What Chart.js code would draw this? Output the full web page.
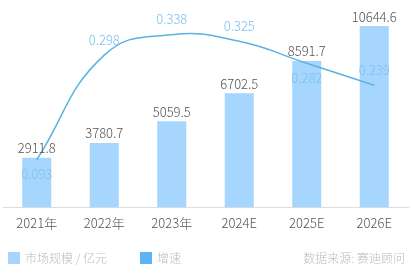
<!DOCTYPE html>
<html>
<head>
<meta charset="utf-8">
<script src="https://cdn.jsdelivr.net/npm/chart.js@4/dist/chart.umd.min.js"></script>
<style>
  html, body { margin: 0; padding: 0; background: #fff; }
  #wrap { position: relative; width: 412px; height: 273px; }
</style>
</head>
<body>
<div id="wrap"><canvas id="chart"></canvas></div>
<script>
// chart data
const years = ['2021年', '2022年', '2023年', '2024E', '2025E', '2026E'];
const marketSize = [2911.8, 3780.7, 5059.5, 6702.5, 8591.7, 10644.6];
const growth = [0.093, 0.298, 0.338, 0.325, 0.282, 0.239];
// which growth labels sit under the point
const growthBelow = [true, false, false, false, true, false];
const legendLabels = ['市场规模 / 亿元', '增速'];
const sourceText = '数据来源: 赛迪顾问';

const fontFamily = '"Noto Sans CJK SC", "Noto Sans", sans-serif';

// value labels + bottom legend, drawn on the canvas
const labelPlugin = {
    id: 'labels',
    afterDatasetsDraw: function(chart) {
        const c = chart.ctx;
        c.save();
        c.textAlign = 'center';
        c.textBaseline = 'bottom';
        c.font = '300 13px ' + fontFamily;
        c.fillStyle = '#555';
        chart.getDatasetMeta(0).data.forEach(function(bar, i) {
            c.fillText(marketSize[i].toFixed(1), bar.x, bar.y - 3);
        });
        c.fillStyle = '#7cc2f0';
        chart.getDatasetMeta(1).data.forEach(function(pt, i) {
            if (growthBelow[i]) {
                c.textBaseline = 'top';
                c.fillText(growth[i].toFixed(3), pt.x, pt.y + 8);
            } else {
                c.textBaseline = 'bottom';
                c.fillText(growth[i].toFixed(3), pt.x, pt.y - 9);
            }
        });

        // legend
        const ly = 258;
        c.font = '300 12px ' + fontFamily;
        c.textAlign = 'left';
        c.textBaseline = 'middle';
        c.fillStyle = '#a6d6fd';
        c.fillRect(8, ly - 6, 12, 12);
        c.fillStyle = '#bbb';
        c.fillText(legendLabels[0], 25, ly);
        c.fillStyle = '#5cb4f8';
        c.fillRect(140, ly - 6, 12, 12);
        c.fillStyle = '#bbb';
        c.fillText(legendLabels[1], 157, ly);
        c.textAlign = 'right';
        c.fillText(sourceText, 405, ly);
        c.restore();
    }
};

const ctx = document.getElementById('chart').getContext('2d');
new Chart(ctx, {
    data: {
        labels: years,
        datasets: [{
            type: 'bar',
            label: legendLabels[0],
            data: marketSize,
            backgroundColor: '#a6d6fd',
            categoryPercentage: 0.86,
            barPercentage: 0.5,
            yAxisID: 'y',
            order: 2
        }, {
            type: 'line',
            label: legendLabels[1],
            data: growth,
            borderColor: '#5ab2e2',
            borderWidth: 1.5,
            pointRadius: 0,
            tension: 0.45,
            fill: false,
            yAxisID: 'y2',
            order: 1
        }]
    },
    options: {
        responsive: true,
        maintainAspectRatio: false,
        animation: false,
        layout: {
            padding: { left: 3, right: 4, top: 3, bottom: 34 }
        },
        scales: {
            x: {
                grid: { display: false, drawTicks: false },
                border: { color: '#ddd', width: 1 },
                ticks: {
                    color: '#555',
                    padding: 8,
                    font: { size: 13, weight: 300, family: fontFamily }
                }
            },
            y: {
                display: false,
                min: 0,
                max: 12000
            },
            y2: {
                display: false,
                min: 0,
                max: 0.4
            }
        },
        plugins: {
            legend: { display: false },
            tooltip: { enabled: false }
        }
    },
    plugins: [labelPlugin]
});
</script>
</body>
</html>
